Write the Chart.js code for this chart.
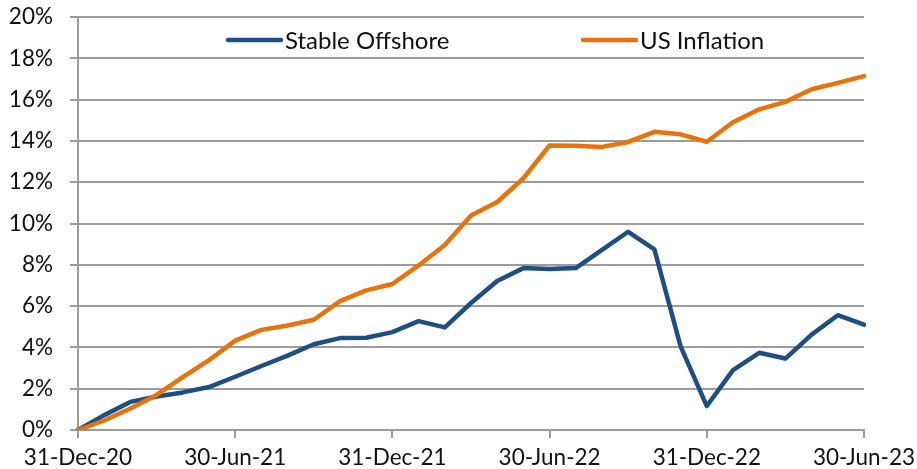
<!DOCTYPE html>
<html>
<head>
<meta charset="utf-8">
<script src="https://cdn.jsdelivr.net/npm/chart.js@4.4.1/dist/chart.umd.min.js"></script>
<style>
    html, body { margin: 0; padding: 0; background: #ffffff; }
    #wrap { position: relative; width: 917px; height: 469px; }
</style>
</head>
<body>
<div id="wrap"><canvas id="returnsChart"></canvas></div>
<script>
// Month-end dates, Dec 2020 to Jun 2023
const months = [
    '31-Dec-20', '31-Jan-21', '28-Feb-21', '31-Mar-21', '30-Apr-21', '31-May-21', '30-Jun-21',
    '31-Jul-21', '31-Aug-21', '30-Sep-21', '31-Oct-21', '30-Nov-21', '31-Dec-21',
    '31-Jan-22', '28-Feb-22', '31-Mar-22', '30-Apr-22', '31-May-22', '30-Jun-22',
    '31-Jul-22', '31-Aug-22', '30-Sep-22', '31-Oct-22', '30-Nov-22', '31-Dec-22',
    '31-Jan-23', '28-Feb-23', '31-Mar-23', '30-Apr-23', '31-May-23', '30-Jun-23'
];

// Cumulative return, %
const stableOffshore = [
    0, 0.72, 1.36, 1.62, 1.82, 2.08, 2.58,
    3.1, 3.6, 4.15, 4.45, 4.47, 4.74,
    5.27, 4.97, 6.15, 7.22, 7.84, 7.8,
    7.84, 8.72, 9.6, 8.75, 4.05, 1.16,
    2.9, 3.74, 3.46, 4.62, 5.56, 5.1
];
const usInflation = [
    0, 0.46, 1.04, 1.7, 2.56, 3.38, 4.33,
    4.85, 5.06, 5.34, 6.24, 6.76, 7.07,
    7.97, 8.96, 10.39, 11.04, 12.19, 13.78,
    13.76, 13.71, 13.95, 14.44, 14.32, 13.96,
    14.9, 15.53, 15.89, 16.5, 16.81, 17.14
];

const yTicks = { min: 0, max: 20, step: 2 };

const fontFamily = 'Lato, "Open Sans", sans-serif';
const gridGray = '#9c9c9c';

// Legend drawn inside the plot area, like the original
const innerLegend = {
    id: 'innerLegend',
    afterDraw(chart) {
        const ctx = chart.ctx;
        const area = chart.chartArea;
        const offsets = [150, 505];
        ctx.save();
        ctx.font = '24px ' + fontFamily;
        ctx.fillStyle = '#111111';
        ctx.textBaseline = 'middle';
        chart.data.datasets.forEach((ds, i) => {
            const x = area.left + offsets[i];
            const y = area.top + 23;
            ctx.strokeStyle = ds.borderColor;
            ctx.lineWidth = 4.5;
            ctx.lineCap = 'round';
            ctx.beginPath();
            ctx.moveTo(x, y);
            ctx.lineTo(x + 53, y);
            ctx.stroke();
            ctx.fillText(ds.label, x + 57, y + 1);
        });
        ctx.restore();
    }
};

document.addEventListener('DOMContentLoaded', function() {
    const ctx = document.getElementById('returnsChart').getContext('2d');
    new Chart(ctx, {
        type: 'line',
        data: {
            labels: months,
            datasets: [
                {
                    label: 'Stable Offshore',
                    data: stableOffshore,
                    borderColor: '#1f4e80',
                    borderWidth: 4.5,
                    tension: 0,
                    pointRadius: 0,
                    borderJoinStyle: 'round',
                    borderCapStyle: 'round',
                    order: 2
                },
                {
                    label: 'US Inflation',
                    data: usInflation,
                    borderColor: '#e8720c',
                    borderWidth: 4.5,
                    tension: 0,
                    pointRadius: 0,
                    borderJoinStyle: 'round',
                    borderCapStyle: 'round',
                    order: 1
                }
            ]
        },
        options: {
            responsive: true,
            maintainAspectRatio: false,
            animation: false,
            layout: {
                padding: { top: 17, right: 53, left: 0, bottom: 0 }
            },
            plugins: {
                legend: { display: false },
                tooltip: { enabled: false }
            },
            scales: {
                x: {
                    offset: false,
                    afterFit: function(scale) {
                        scale.height = 39;
                        scale.paddingLeft = 0;
                        scale.paddingRight = 0;
                    },
                    border: { display: true, color: gridGray, width: 2 },
                    grid: {
                        drawOnChartArea: false,
                        drawTicks: true,
                        tickLength: 8,
                        color: gridGray,
                        lineWidth: 2
                    },
                    ticks: {
                        autoSkip: false,
                        maxRotation: 0,
                        padding: 6,
                        color: '#111111',
                        font: { family: fontFamily, size: 22.5 },
                        callback: function(value, index) {
                            return index % 6 === 0 ? months[index] : null;
                        }
                    }
                },
                y: {
                    min: yTicks.min,
                    max: yTicks.max,
                    afterFit: function(scale) {
                        scale.width = 78;
                        scale.paddingTop = 0;
                        scale.paddingBottom = 0;
                    },
                    border: { display: true, color: gridGray, width: 2 },
                    grid: {
                        color: gridGray,
                        lineWidth: 2,
                        tickLength: 8
                    },
                    ticks: {
                        stepSize: yTicks.step,
                        padding: 17,
                        color: '#111111',
                        font: { family: fontFamily, size: 22.5 },
                        callback: function(value) {
                            return value + '%';
                        }
                    }
                }
            }
        },
        plugins: [innerLegend]
    });
});
</script>
</body>
</html>
